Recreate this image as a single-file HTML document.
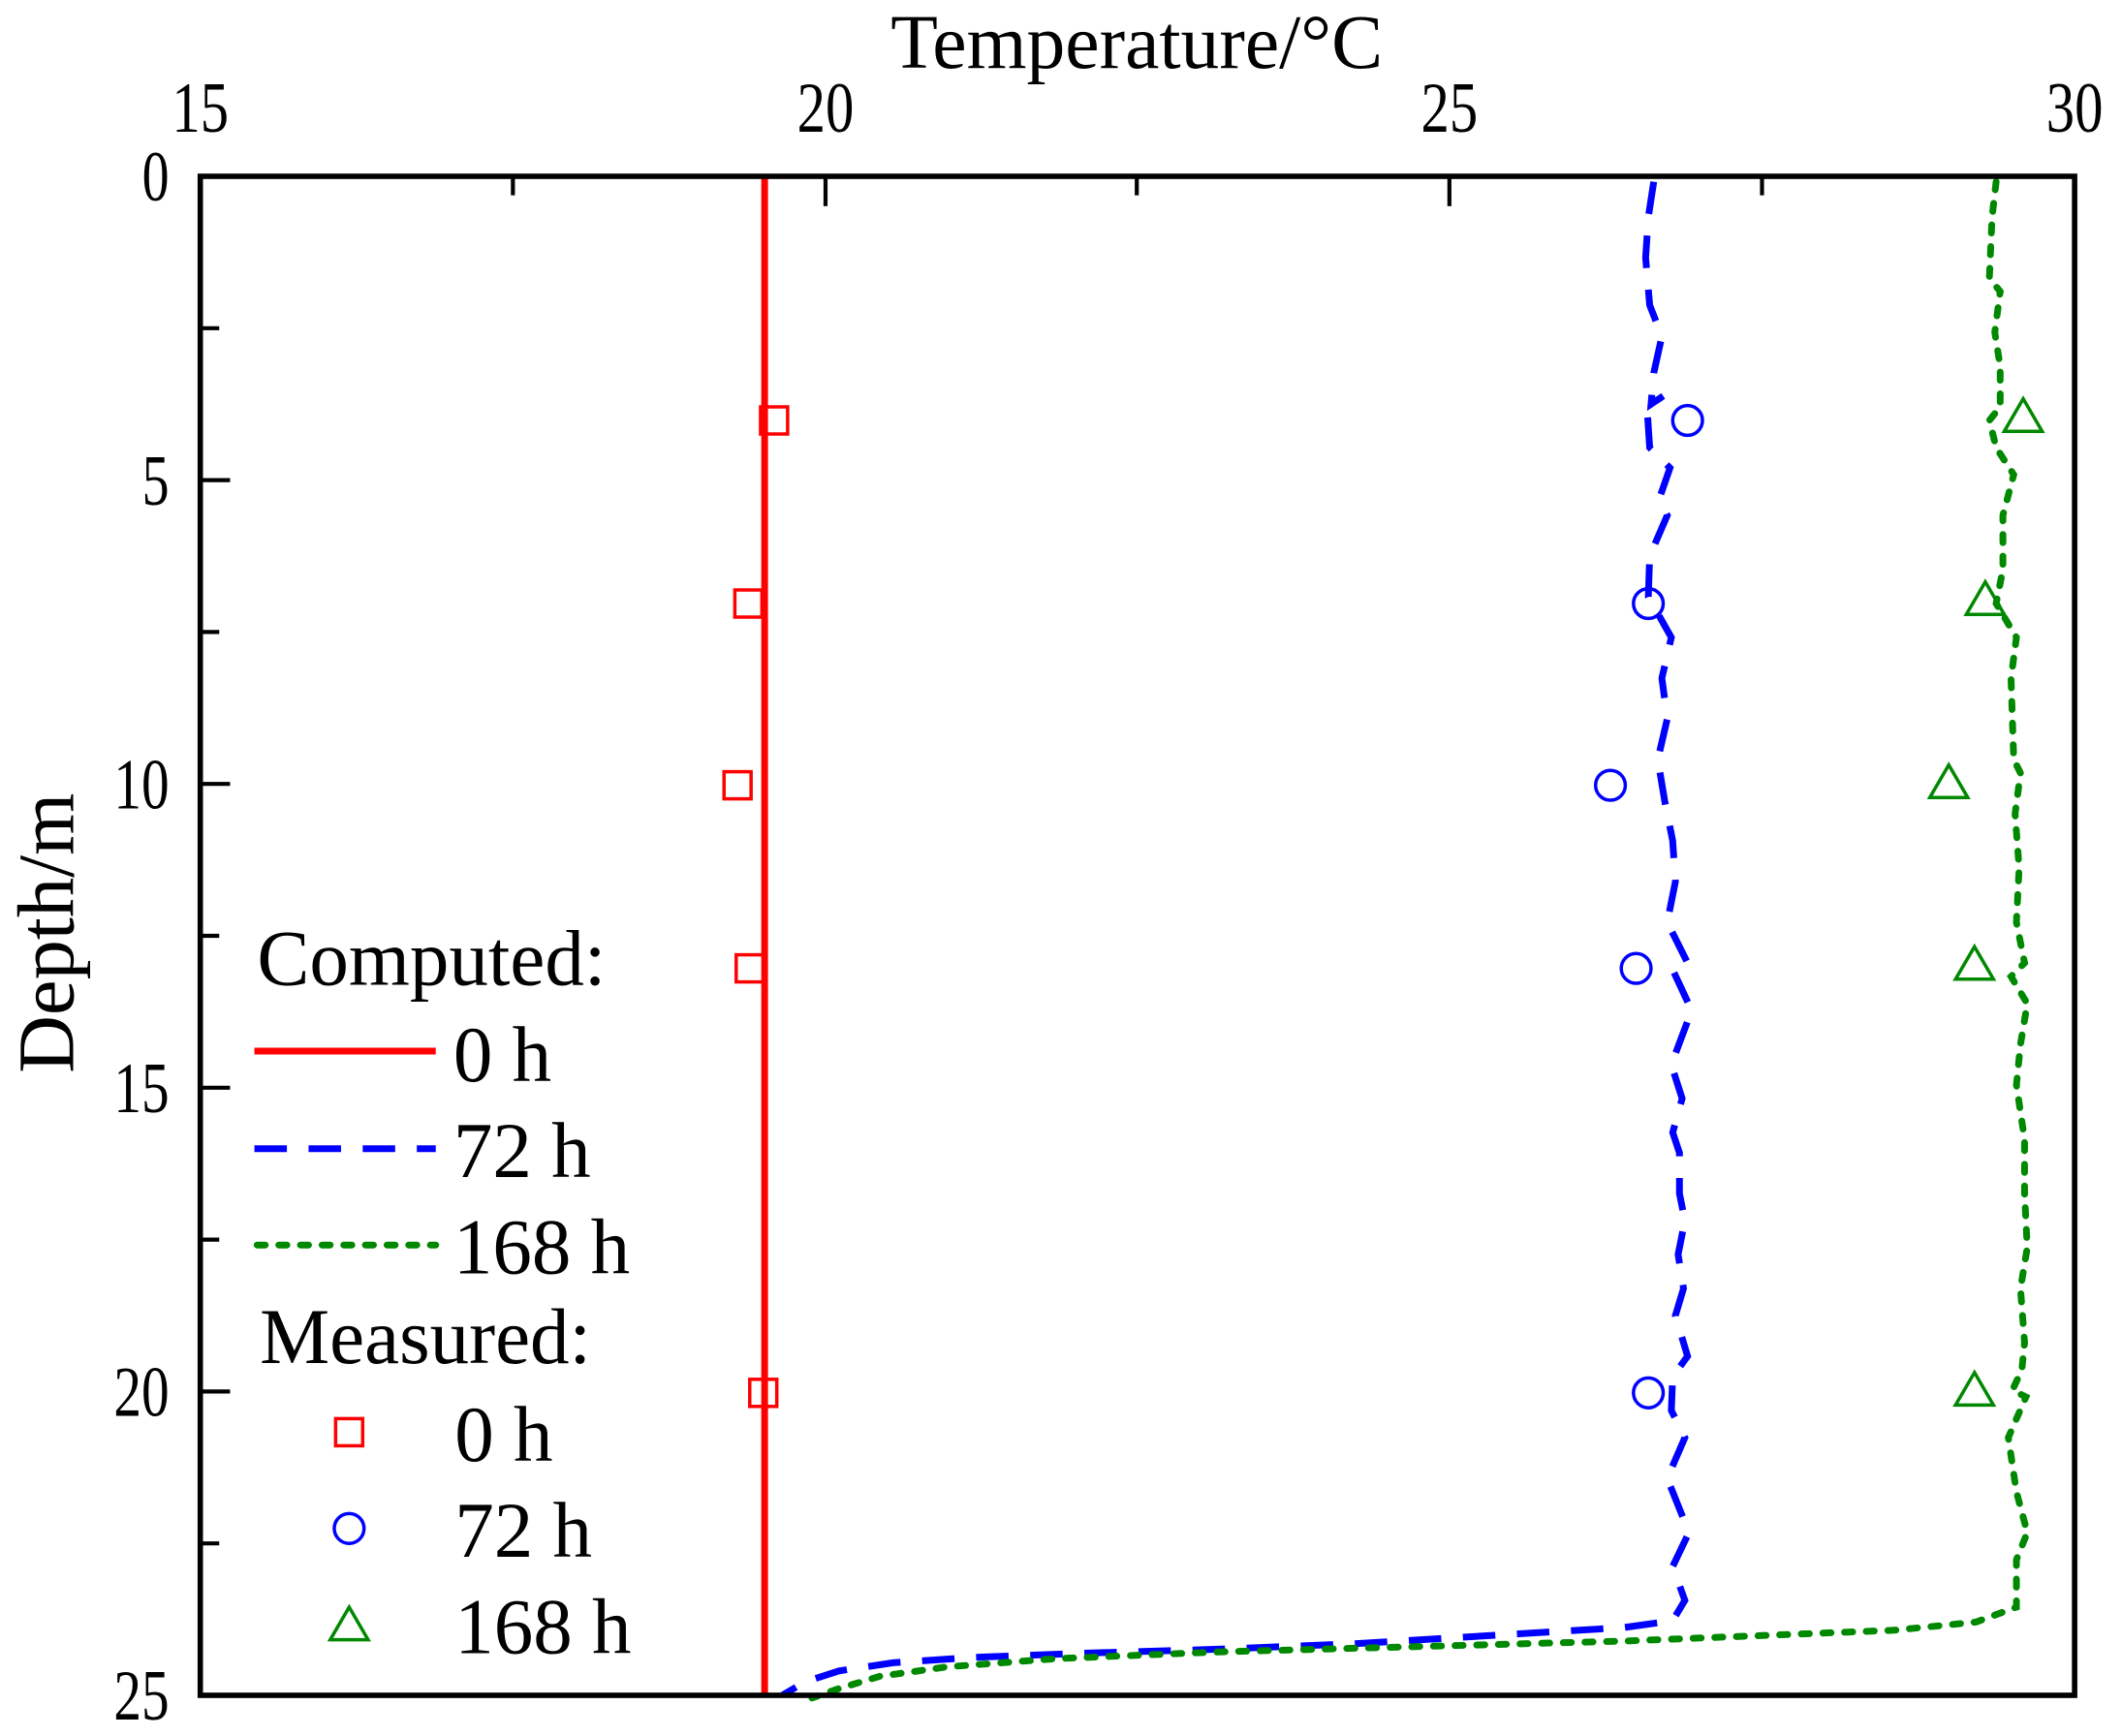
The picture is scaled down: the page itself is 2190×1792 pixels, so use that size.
<!DOCTYPE html>
<html><head><meta charset="utf-8"><style>html,body{margin:0;padding:0;background:#fff}svg{display:block}</style></head><body>
<svg width="2190" height="1792" viewBox="0 0 2190 1792" xmlns="http://www.w3.org/2000/svg">
<g transform="scale(1.39668,1.4)" font-family="Liberation Serif, serif">
<rect width="1568" height="1280" fill="#fff"/>
<g stroke="#000" stroke-width="3">
<line x1="379" y1="130" x2="379" y2="144"/><line x1="610" y1="130" x2="610" y2="152"/><line x1="840" y1="130" x2="840" y2="144"/><line x1="1071" y1="130" x2="1071" y2="152"/><line x1="1302" y1="130" x2="1302" y2="144"/>
<line x1="148" y1="242" x2="162" y2="242"/><line x1="148" y1="354" x2="170" y2="354"/><line x1="148" y1="466" x2="162" y2="466"/><line x1="148" y1="578" x2="170" y2="578"/><line x1="148" y1="690" x2="162" y2="690"/><line x1="148" y1="802" x2="170" y2="802"/><line x1="148" y1="914" x2="162" y2="914"/><line x1="148" y1="1026" x2="170" y2="1026"/><line x1="148" y1="1138" x2="162" y2="1138"/>
</g>
<line x1="565" y1="130" x2="565" y2="1250" stroke="#f00" stroke-width="5"/>
<path d="M1222,134 L1218,160 L1216,190 L1219,225 L1228,248 L1222,275 L1220,298 L1229,292 L1217,300 L1219,330 L1234,345 L1226,368 L1232,380 L1219,410 L1218,440 L1235,470 L1228,500 L1232,530 L1225,560 L1230,590 L1236,620 L1238,650 L1232,680 L1247,710 L1236,715 L1250,745 L1235,785 L1243,810 L1236,835 L1241,850 L1241,880 L1245,900 L1240,925 L1244,950 L1238,970 L1247,1000 L1236,1015 L1235,1040 L1245,1060 L1232,1090 L1240,1110 L1248,1130 L1236,1155 L1245,1180 L1236,1195 L1200,1200 L1100,1206 L1000,1212 L900,1216 L800,1219 L720,1222 L660,1226 L620,1232 L595,1240 L578,1250" fill="none" stroke="#00f" stroke-width="5" stroke-dasharray="24,16"/>
<path d="M1475,134 L1472,160 L1470,205 L1478,215 L1474,245 L1478,270 L1478,300 L1470,310 L1475,330 L1488,350 L1480,380 L1480,420 L1475,445 L1490,470 L1486,500 L1487,530 L1488,560 L1493,570 L1489,600 L1492,640 L1490,680 L1496,710 L1486,720 L1498,740 L1493,770 L1490,800 L1496,840 L1496,880 L1498,920 L1493,950 L1496,990 L1494,1010 L1487,1025 L1497,1030 L1484,1060 L1490,1100 L1498,1130 L1490,1150 L1490,1185 L1460,1196 L1400,1202 L1300,1206 L1200,1210 L1050,1214 L900,1218 L780,1223 L700,1229 L650,1236 L620,1245 L600,1252" fill="none" stroke="#080" stroke-width="5" stroke-dasharray="6,10" stroke-linecap="round"/>
<g fill="none" stroke="#f00" stroke-width="2.5">
<rect x="562" y="300" width="20" height="20"/><rect x="543" y="435" width="20" height="20"/><rect x="535" y="569" width="20" height="20"/><rect x="544" y="704" width="20" height="20"/><rect x="554" y="1017" width="20" height="20"/>
<rect x="248" y="1046" width="20" height="20"/>
</g>
<g fill="none" stroke="#00f" stroke-width="2.5">
<circle cx="1247" cy="310" r="11"/><circle cx="1218" cy="445" r="11"/><circle cx="1190" cy="579" r="11"/><circle cx="1209" cy="714" r="11"/><circle cx="1218" cy="1027" r="11"/>
<circle cx="258" cy="1127" r="11"/>
</g>
<g fill="none" stroke="#080" stroke-width="2.5">
<path d="M1495,294 L1509,318 L1481,318 Z"/><path d="M1467,429 L1481,453 L1453,453 Z"/><path d="M1440,564 L1454,588 L1426,588 Z"/><path d="M1459,698 L1473,722 L1445,722 Z"/><path d="M1459,1012 L1473,1036 L1445,1036 Z"/>
<path d="M258,1185 L272,1209 L244,1209 Z"/>
</g>
<rect x="148" y="130" width="1385" height="1120" fill="none" stroke="#000" stroke-width="4"/>
<g font-size="53" text-anchor="middle" fill="#000">
<text x="148" y="97" textLength="42" lengthAdjust="spacingAndGlyphs">15</text><text x="610" y="97" textLength="42" lengthAdjust="spacingAndGlyphs">20</text><text x="1071" y="97" textLength="42" lengthAdjust="spacingAndGlyphs">25</text><text x="1533" y="97" textLength="42" lengthAdjust="spacingAndGlyphs">30</text>
</g>
<g font-size="53" text-anchor="end" fill="#000">
<text x="125" y="148" textLength="20" lengthAdjust="spacingAndGlyphs">0</text><text x="125" y="372" textLength="20" lengthAdjust="spacingAndGlyphs">5</text><text x="125" y="596" textLength="41" lengthAdjust="spacingAndGlyphs">10</text><text x="125" y="820" textLength="41" lengthAdjust="spacingAndGlyphs">15</text><text x="125" y="1044" textLength="41" lengthAdjust="spacingAndGlyphs">20</text><text x="125" y="1268" textLength="41" lengthAdjust="spacingAndGlyphs">25</text>
</g>
<text x="840" y="50" font-size="57" text-anchor="middle">Temperature/°C</text>
<text transform="translate(54,688) rotate(-90)" font-size="59" text-anchor="middle">Depth/m</text>
<g font-size="58" fill="#000">
<text x="190" y="726">Computed:</text>
<line x1="188" y1="775" x2="322" y2="775" stroke="#f00" stroke-width="5"/>
<text x="335" y="797">0 h</text>
<line x1="188" y1="847" x2="322" y2="847" stroke="#00f" stroke-width="5" stroke-dasharray="24,16"/>
<text x="335" y="868">72 h</text>
<line x1="190" y1="918" x2="322" y2="918" stroke="#080" stroke-width="5" stroke-dasharray="6,10" stroke-linecap="round"/>
<text x="335" y="939">168 h</text>
<text x="192" y="1005">Measured:</text>
<text x="336" y="1077">0 h</text>
<text x="336" y="1148">72 h</text>
<text x="336" y="1219">168 h</text>
</g>
</g>
</svg>
</body></html>
